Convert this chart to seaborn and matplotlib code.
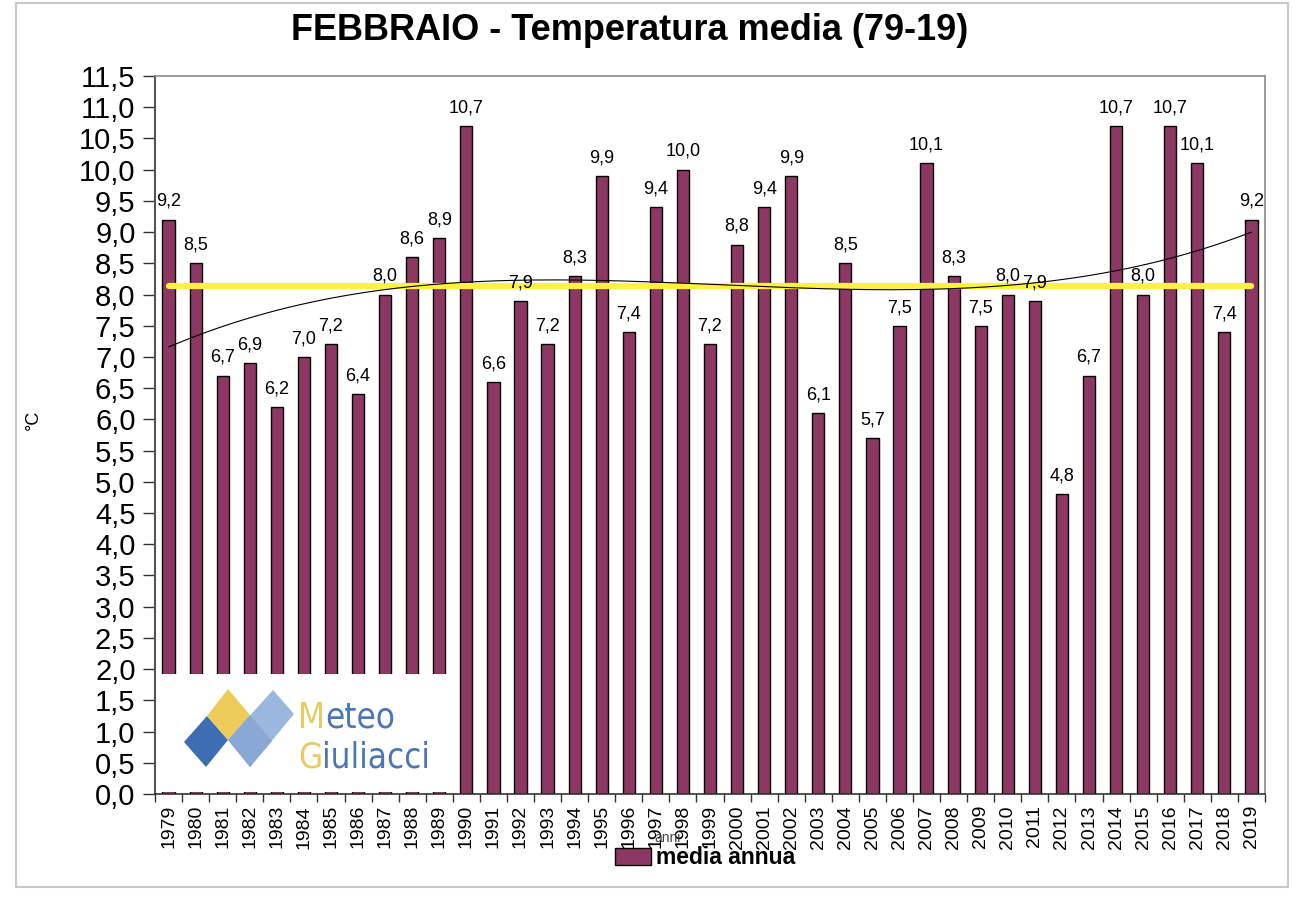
import numpy as np
import pandas as pd
import matplotlib
matplotlib.use("Agg")
import matplotlib.pyplot as plt
from matplotlib.patches import Polygon, Rectangle, Patch
from matplotlib.ticker import FixedLocator, FuncFormatter
import seaborn as sns

years = list(range(1979, 2020))
values = [9.2, 8.5, 6.7, 6.9, 6.2, 7.0, 7.2, 6.4, 8.0, 8.6, 8.9,
          10.7, 6.6, 7.9, 7.2, 8.3, 9.9, 7.4, 9.4, 10.0, 7.2,
          8.8, 9.4, 9.9, 6.1, 8.5, 5.7, 7.5, 10.1, 8.3, 7.5,
          8.0, 7.9, 4.8, 6.7, 10.7, 8.0, 10.7, 10.1, 7.4, 9.2]
title = "FEBBRAIO - Temperatura media (79-19)"
series_name = "media annua"

BAR = "#8C3863"

sns.set_theme(style="white")
plt.rcParams['font.family'] = ['Liberation Sans', 'DejaVu Sans']
plt.rcParams['text.color'] = 'black'
plt.rcParams['xtick.color'] = 'black'
plt.rcParams['ytick.color'] = 'black'

df = pd.DataFrame({"anno": [str(y) for y in years], "temp": values})

fig = plt.figure(figsize=(13, 9), dpi=100)
fig.patch.set_facecolor("white")
ax = fig.add_axes([155/1300, 1 - 794/900, (1265-155)/1300, (794-76)/900])

sns.barplot(data=df, x="anno", y="temp", color=BAR, width=0.45,
            edgecolor="black", linewidth=1.0, saturation=1, ax=ax, zorder=2)

# value labels
for i, v in enumerate(values):
    ax.annotate(f"{v:.1f}".replace(".", ","), (i, v), xytext=(0, 7),
                textcoords="offset points", ha="center", va="bottom",
                fontsize=13, color="black", zorder=5)

# mean line
xs = np.arange(len(values))
mean_v = float(np.mean(values))
ax.plot([xs[0], xs[-1]], [mean_v, mean_v], color="#FFF23A", lw=4.5,
        solid_capstyle="round", zorder=3)

# polynomial trend (least squares, order 3)
coef = np.polyfit(xs, values, 3)
xf = np.linspace(xs[0], xs[-1], 200)
ax.plot(xf, np.polyval(coef, xf), color="black", lw=0.8, zorder=4)

ax.set_xlim(-0.5, len(values) - 0.5)
ax.set_ylim(0, 11.5)
ax.yaxis.set_major_locator(FixedLocator(np.arange(0, 11.51, 0.5)))
ax.yaxis.set_major_formatter(FuncFormatter(lambda v, p: f"{v:.1f}".replace(".", ",")))
ax.tick_params(axis="y", direction="out", length=9, width=1, color="#333333",
               labelsize=21, pad=5, left=True, labelcolor="black")
ax.tick_params(axis="x", which="major", length=0, labelsize=14,
               labelrotation=90, pad=8, labelcolor="black")
ax.xaxis.set_minor_locator(FixedLocator(np.arange(-0.5, len(values), 1)))
ax.tick_params(axis="x", which="minor", direction="out", length=6, width=1,
               color="#333333", bottom=True)
for lab in ax.get_xticklabels():
    lab.set_va("top")

for s in ["top", "right"]:
    ax.spines[s].set_color("#8a8a8a")
    ax.spines[s].set_linewidth(1.2)
ax.spines["left"].set_color("#555555")
ax.spines["left"].set_linewidth(1.5)
ax.spines["bottom"].set_color("#333333")
ax.spines["bottom"].set_linewidth(1.2)
ax.set_xlabel("")
ax.set_ylabel("")

# title and axis labels
fig.text(630/1300, 1 - 31/900, title, ha="center", va="center",
         fontsize=26, fontweight="bold", color="black")
fig.text(33/1300, 1 - 420/900, "°C", rotation=90, ha="center", va="center",
         fontsize=13, color="black")
fig.text(668/1300, 1 - 838/900, "anni", ha="center", va="center",
         fontsize=10, color="#444444")

leg = fig.legend(handles=[Patch(facecolor=BAR, edgecolor="black", label=series_name)],
                 loc="center", bbox_to_anchor=(705/1300, 1 - 858/900), frameon=False,
                 prop={"weight": "bold", "size": 16.5}, handlelength=1.6,
                 handleheight=0.7, handletextpad=0.2, borderpad=0)

# overlay for logo and frame (pixel coordinates)
ov = fig.add_axes([0, 0, 1, 1], zorder=10)
ov.set_xlim(0, 1300)
ov.set_ylim(900, 0)
ov.axis("off")
ov.patch.set_alpha(0)
ov.add_patch(Rectangle((157, 674), 298, 118, facecolor="white", edgecolor="none"))
ov.add_patch(Polygon([(207, 716), (228, 740), (206, 767), (184, 742)],
                     closed=True, facecolor="#3F6DB3", edgecolor="none"))
ov.add_patch(Polygon([(228, 689), (250, 715), (228, 740), (207, 716)],
                     closed=True, facecolor="#EDCB5A", edgecolor="none"))
ov.add_patch(Polygon([(273, 690), (294, 714), (250, 767), (228, 740)],
                     closed=True, facecolor="#9AB7DE", edgecolor="none"))
ov.add_patch(Polygon([(250, 715), (272, 741), (250, 767), (228, 740)],
                     closed=True, facecolor="#89A8D4", edgecolor="none"))
logo_font = dict(family=['DejaVu Sans'], fontstretch='condensed', fontsize=25)
t1 = ov.text(298, 728, "M", color="#E8CB63", va="baseline", ha="left", **logo_font)
ov.annotate("eteo", xy=(1, 0), xycoords=t1, va="bottom", ha="left",
            color="#4A76B5", **logo_font)
t2 = ov.text(298, 768, "G", color="#E8CB63", va="baseline", ha="left", **logo_font)
ov.annotate("iuliacci", xy=(1, 0), xycoords=t2, va="bottom", ha="left",
            color="#4A76B5", **logo_font)
# outer frame
ov.add_patch(Rectangle((16, 3), 1272, 884, facecolor="none", edgecolor="#c8c8c8", lw=1.5))

fig.savefig("out.png", dpi=100, facecolor="white")
